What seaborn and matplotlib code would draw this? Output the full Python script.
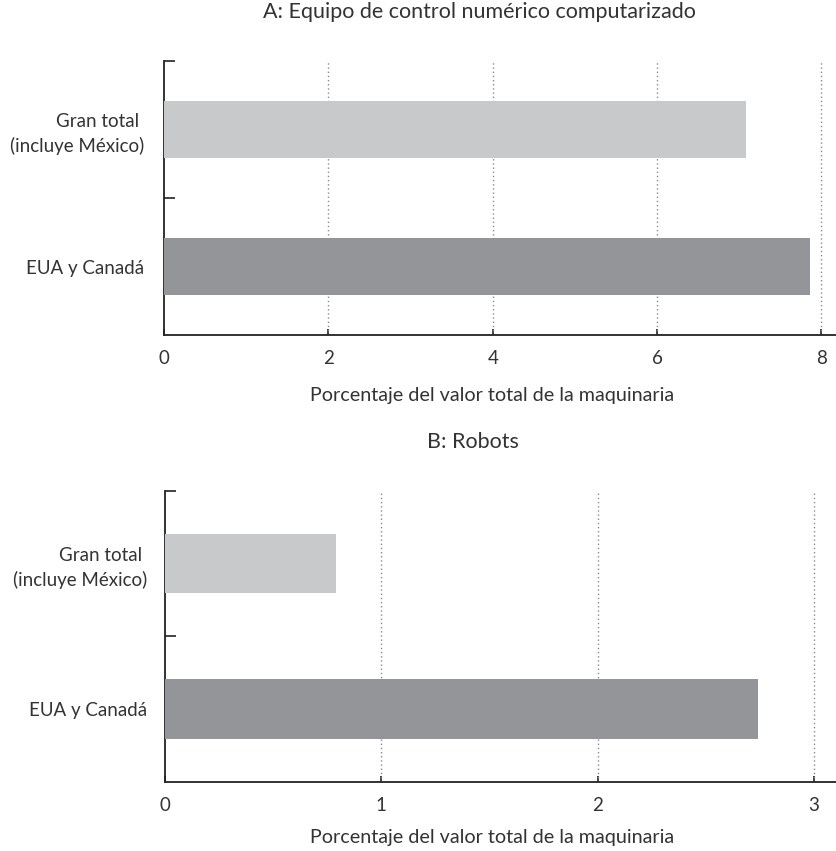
import matplotlib
matplotlib.use("Agg")
import matplotlib.pyplot as plt
from matplotlib.ticker import FixedLocator, NullFormatter, FixedFormatter
import seaborn as sns
import pandas as pd

# Data
categories = ["Gran total \n(incluye México)", "EUA y Canadá"]
cnc_values = [7.08, 7.86]        # A: equipo de control numérico computarizado
robot_values = [0.79, 2.74]      # B: robots
bar_colors = ["#c8c9cb", "#939598"]
cnc_ticks = [0, 2, 4, 6, 8]
robot_ticks = [0, 1, 2, 3]

title_a = "A: Equipo de control numérico computarizado"
title_b = "B: Robots"
xlabel = "Porcentaje del valor total de la maquinaria"

sns.set_theme(style="white")
plt.rcParams["font.family"] = ["Lato", "DejaVu Sans"]
text_color = "#333333"
fs_tick = 13.5
fs_label = 14.2
fs_title = 15.5

fig = plt.figure(figsize=(8.36, 8.51), dpi=100)
ax_a = fig.add_axes([0.1962, 0.6063, 0.805, 0.3220])
ax_b = fig.add_axes([0.1974, 0.0811, 0.8040, 0.3425])


def draw_panel(ax, values, ticks, xmax, title, title_xy, label_xy, ypad):
    df = pd.DataFrame({"cat": categories, "val": values})
    sns.barplot(data=df, x="val", y="cat", hue="cat", palette=bar_colors,
                orient="h", width=0.41, legend=False, ax=ax, zorder=3,
                saturation=1, edgecolor="none", linewidth=0)
    ax.set_xlim(0, xmax)
    ax.set_ylim(1.5, -0.5)

    # dotted vertical gridlines
    for t in ticks[1:]:
        ax.axvline(t, color="#8a8a8a", linestyle=(0, (1, 2)), linewidth=1.0,
                   zorder=1)

    for side in ["top", "right"]:
        ax.spines[side].set_visible(False)
    for side in ["left", "bottom"]:
        ax.spines[side].set_color("#222222")
        ax.spines[side].set_linewidth(1.3)

    # x axis
    ax.set_xticks(ticks)
    ax.set_xticklabels([str(t) for t in ticks])
    ax.tick_params(axis="x", direction="in", length=4, width=1.2,
                   colors="#222222", labelcolor=text_color,
                   labelsize=fs_tick, pad=11, bottom=True)

    # y axis: ticks on category boundaries, labels on category centres
    ax.yaxis.set_major_locator(FixedLocator([-0.5, 0.5]))
    ax.yaxis.set_major_formatter(NullFormatter())
    ax.yaxis.set_minor_locator(FixedLocator([0, 1]))
    ax.yaxis.set_minor_formatter(FixedFormatter(categories))
    ax.tick_params(axis="y", which="major", direction="in", length=8,
                   width=1.2, colors="#222222", left=True)
    ax.tick_params(axis="y", which="minor", length=0, pad=ypad,
                   labelcolor=text_color, labelsize=fs_tick, left=True)
    for lbl in ax.yaxis.get_minorticklabels():
        lbl.set_multialignment("right")
        lbl.set_linespacing(1.45)
    ax.set_ylabel("")

    ax.set_xlabel(xlabel, fontsize=fs_label, color=text_color)
    ax.xaxis.set_label_coords(*label_xy)
    ax.xaxis.label.set_va("center")

    ax.set_title(title, fontsize=fs_title, color=text_color, x=title_xy[0],
                 y=title_xy[1], va="center")


draw_panel(ax_a, cnc_values, cnc_ticks, 8.19, title_a,
           (0.469, 1.150), (0.487, -0.219), 14.5)
draw_panel(ax_b, robot_values, robot_ticks, 3.107, title_b,
           (0.4575, 1.139), (0.486, -0.189), 13)

fig.savefig("out.png", dpi=100, facecolor="white")
